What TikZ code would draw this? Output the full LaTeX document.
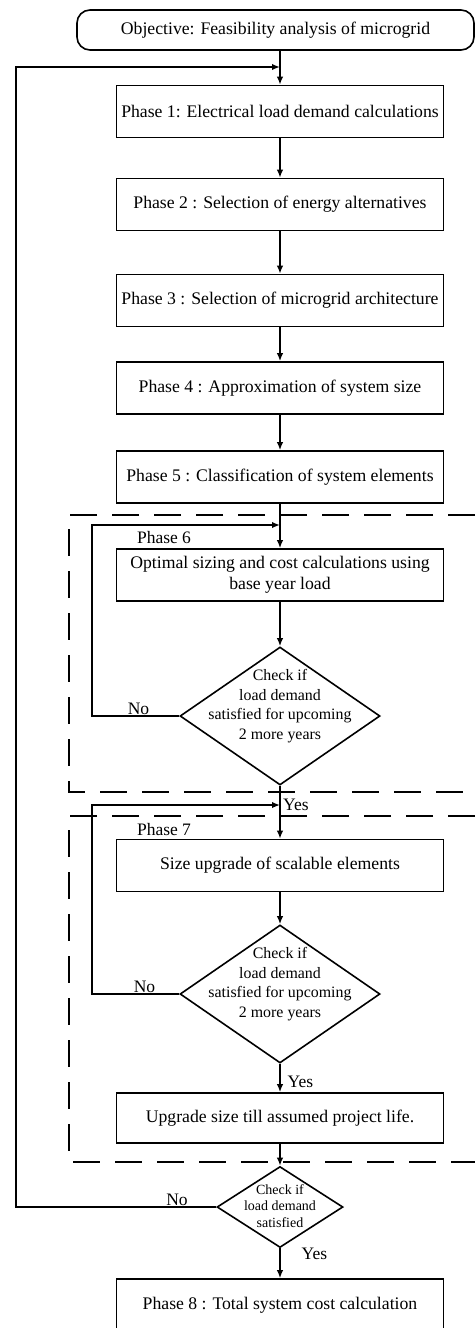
\documentclass[tikz,border=0pt]{standalone}
\usepackage{fontspec}
\setmainfont{Liberation Serif}
\usetikzlibrary{arrows.meta,shapes.geometric}
\begin{document}
\begin{tikzpicture}[x=1pt,y=-1pt,
  term/.style={draw, line width=1.6pt, rounded corners=13pt, minimum width=397pt,
    minimum height=40pt, inner sep=0pt, font=\fontsize{17.7}{21}\selectfont},
  proc/.style={draw, line width=1.6pt, minimum width=327pt, minimum height=52pt,
    inner sep=0pt, align=center, font=\fontsize{17.7}{20.5}\selectfont},
  dec/.style={draw, diamond, line width=1.6pt, inner sep=0pt, minimum width=200pt,
    minimum height=138pt},
  dtext/.style={align=center, inner sep=0pt, font=\fontsize{15.9}{19.5}\selectfont},
  lbl/.style={inner sep=0pt, font=\fontsize{17.5}{20}\selectfont},
  flow/.style={line width=1.6pt, -{Latex[length=8pt,width=6.5pt]}},
  zone/.style={line width=1.6pt, dash pattern=on 27pt off 15pt}]
\useasboundingbox (0,0) rectangle (475,1328);
\clip (0,0) rectangle (475,1328);

% main column of steps
\node[term] (obj) at (275.5,30) {Objective: Feasibility analysis of microgrid};
\node[proc] (p1) at (280,111.5) {Phase 1: Electrical load demand calculations};
\node[proc] (p2) at (280,204.5) {Phase 2 : Selection of energy alternatives};
\node[proc] (p3) at (280,300.5) {Phase 3 : Selection of microgrid architecture};
\node[proc] (p4) at (280,388) {Phase 4 : Approximation of system size};
\node[proc] (p5) at (280,477) {Phase 5 : Classification of system elements};
\node[proc] (p6) at (280,575) {Optimal sizing and cost calculations using\\base year load};
\node[dec] (d1) at (280,716) {};
\node[dtext] (t1) at (280,706) {Check if\\load demand\\satisfied for upcoming\\2 more years};
\node[proc] (p7) at (280,865.5) {Size upgrade of scalable elements};
\node[dec] (d2) at (280,994) {};
\node[dtext] (t2) at (280,984) {Check if\\load demand\\satisfied for upcoming\\2 more years};
\node[proc, minimum height=50pt] (p7b) at (280,1118) {Upgrade size till assumed project life.};
\node[dec, minimum width=126pt, minimum height=81pt] (d3) at (280,1207) {};
\node[dtext, font=\fontsize{14}{16.5}\selectfont] (t3) at (280,1206) {Check if\\load demand\\satisfied};
\node[proc] (p8) at (280,1305) {Phase 8 : Total system cost calculation};

% dashed phase groups
\draw[zone] (475,515) -- (69,515) -- (69,792) -- (475,792);
\draw[zone] (475,816) -- (69,816) -- (69,1162) -- (475,1162);
\node[lbl, anchor=base] (ph6) at (164,543) {Phase 6};
\node[lbl, anchor=base] (ph7) at (164,835) {Phase 7};

% junction points of the feedback loops
\coordinate (j0) at (280,67);
\coordinate (o0) at (16,67);
\coordinate (j6) at (280,525);
\coordinate (o6) at (92,525);
\coordinate (j7) at (280,805);
\coordinate (o7) at (92,805);

% forward flow
\draw[flow] (p1.north |- obj.south) -- (p1.north);
\draw[flow] (p1) -- (p2);
\draw[flow] (p2) -- (p3);
\draw[flow] (p3) -- (p4);
\draw[flow] (p4) -- (p5);
\draw[flow] (p5) -- (p6);
\draw[flow] (p6) -- (d1.north);
\draw[flow] (d1.south) -- (p7);
\draw[flow] (p7) -- (d2.north);
\draw[flow] (d2.south) -- (p7b);
\draw[flow] (p7b) -- (d3.north);
\draw[flow] (d3.south) -- (p8);

% feedback loops
\draw[flow] (d1.west) -| (o6) -- (j6);
\draw[flow] (d2.west) -| (o7) -- (j7);
\draw[flow] (d3.west) -| (o0) -- (j0);

% branch labels
\node[lbl, anchor=base] (n1) at (138.5,714) {No};
\node[lbl, anchor=base] (n2) at (144.5,992) {No};
\node[lbl, anchor=base] (n3) at (177,1205) {No};
\node[lbl, anchor=base west] (y1) at (283,810) {Yes};
\node[lbl, anchor=base west] (y2) at (287.5,1087) {Yes};
\node[lbl, anchor=base west] (y3) at (301.5,1259) {Yes};
\end{tikzpicture}
\end{document}
